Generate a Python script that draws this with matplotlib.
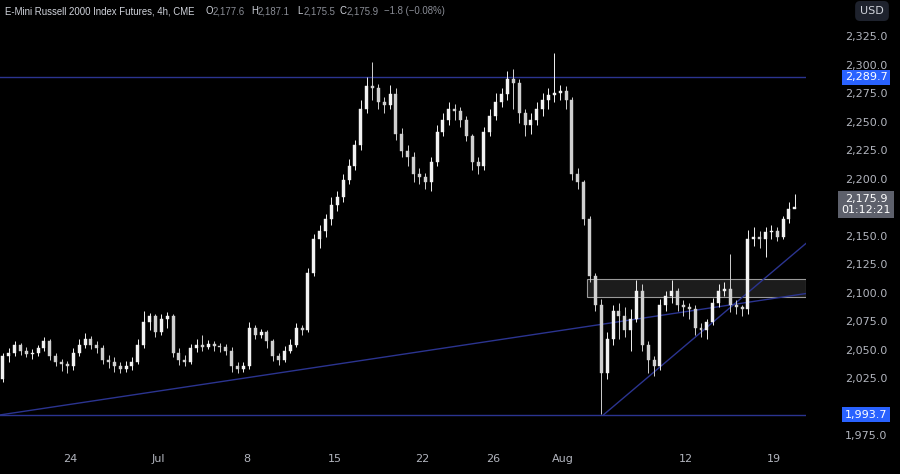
import matplotlib
matplotlib.use("Agg")
import matplotlib.pyplot as plt
import matplotlib.transforms as mtransforms
from matplotlib.patches import Rectangle

first_open = 2025
closes = [2045,2048,2055,2050,2047,2048,2052,2058,2045,2040,2038,2036,
          2048,2055,2060,2055,2052,2042,2040,2036,2034,2036,2040,2055,
          2075,2080,2066,2078,2080,2048,2042,2040,2052,2055,2053,2056,
          2054,2053,2050,2036,2034,2036,2070,2064,2066,2058,2045,2042,
          2050,2055,2070,2068,2118,2148,2155,2165,2178,2185,2200,2212,
          2230,2262,2282,2280,2268,2265,2275,2240,2225,2220,2205,2202,
          2198,2215,2242,2252,2262,2260,2252,2238,2215,2212,2242,2256,
          2268,2275,2288,2285,2258,2248,2252,2262,2270,2274,2276,2278,
          2270,2205,2198,2165,2115,2090,2030,2060,2085,2080,2068,2078,
          2102,2055,2042,2036,2090,2098,2102,2090,2088,2086,2070,2068,
          2075,2092,2102,2104,2090,2088,2086,2148,2150,2148,2154,2155,
          2150,2165,2174,2175.9]
highs = [2048,2052,2058,2057,2053,2051,2055,2062,2060,2048,2043,2041,
         2052,2060,2065,2063,2058,2055,2046,2044,2040,2041,2044,2060,
         2085,2083,2082,2082,2084,2082,2052,2046,2056,2060,2064,2059,
         2058,2057,2056,2053,2040,2040,2075,2072,2069,2068,2060,2048,
         2054,2060,2074,2072,2122,2152,2160,2170,2185,2190,2205,2218,
         2235,2270,2290,2303,2284,2272,2283,2280,2245,2230,2224,2210,
         2206,2220,2248,2258,2268,2266,2264,2256,2240,2220,2246,2262,
         2276,2280,2295,2297,2288,2262,2258,2268,2276,2280,2311,2283,
         2282,2272,2210,2200,2168,2118,2095,2066,2090,2092,2088,2086,
         2112,2108,2058,2045,2095,2102,2112,2105,2094,2092,2090,2074,
         2078,2096,2108,2110,2135,2094,2090,2156,2158,2155,2158,2160,
         2158,2168,2180,2187.1]
lows = [2022,2040,2045,2046,2044,2043,2045,2050,2042,2036,2032,2030,
        2033,2045,2052,2051,2048,2038,2035,2031,2030,2031,2033,2038,
        2052,2068,2062,2064,2070,2044,2037,2036,2038,2049,2050,2051,
        2050,2049,2046,2031,2030,2031,2034,2060,2061,2052,2041,2037,
        2040,2048,2053,2064,2066,2115,2140,2150,2160,2172,2180,2196,
        2208,2226,2258,2270,2262,2258,2262,2235,2220,2212,2198,2196,
        2192,2190,2212,2238,2248,2252,2246,2234,2208,2205,2208,2238,
        2252,2264,2270,2262,2250,2238,2240,2248,2256,2262,2268,2270,
        2262,2200,2192,2160,2110,2085,1994,2025,2055,2060,2062,2050,
        2075,2050,2030,2028,2033,2085,2092,2085,2080,2078,2064,2062,
        2060,2072,2088,2098,2084,2082,2080,2082,2142,2140,2132,2148,
        2146,2148,2162,2175.5]
bars_per_day = 3
date_ticks = [4, 9, 14, 19, 24, 28, 32, 39, 44]
date_labels = ["24", "Jul", "8", "15", "22", "26", "Aug", "12", "19"]
price_ticks = [1975, 2000, 2025, 2050, 2075, 2100, 2125, 2150, 2175, 2200, 2225, 2250, 2275, 2300, 2325]
resistance = 2289.7
support = 1993.7
last_price = 2175.9
trend1 = ([0, 45.8], [1993.5, 2100])
trend2 = ([34.3, 45.8], [1993.7, 2144])
zone = (33.35, 2097, 2112.7)

W, H = 900, 474
fig = plt.figure(figsize=(9, 4.74), dpi=100, facecolor="black")
ax = fig.add_axes([0, 26 / H, 806 / W, 448 / H], facecolor="black")
ax.set_xlim(0, 45.8)
ax.set_ylim(1964.5, 2357.5)
for s in ax.spines.values():
    s.set_visible(False)

lc = "#2b3490"
ax.axhline(resistance, color=lc, lw=1)
ax.axhline(support, color=lc, lw=1)
ax.plot(*trend1, color=lc, lw=1)
ax.plot(*trend2, color=lc, lw=1)
ax.add_patch(Rectangle((zone[0], zone[1]), 45.8 - zone[0], zone[2] - zone[1],
                       facecolor="#1c1c1c", edgecolor="#9a9a9a", lw=0.8, zorder=1))

opens = [first_open] + closes[:-1]
for i, (o, h, l, c) in enumerate(zip(opens, highs, lows, closes)):
    x = (i + 0.5) / bars_per_day
    col = "#f2f2f2" if c >= o else "#cfcfcf"
    ax.vlines(x, l, h, color=col, lw=0.7, zorder=3)
    ax.add_patch(Rectangle((x - 0.085, min(o, c)), 0.17, max(abs(c - o), 0.4),
                           facecolor=col, edgecolor=col, lw=0.3, zorder=4))

ax.set_yticks([])
ax.set_xticks(date_ticks)
ax.set_xticklabels(date_labels, color="#b2b5be", fontsize=8)
ax.tick_params(axis="x", length=0, pad=4)

tr = mtransforms.blended_transform_factory(fig.transFigure, ax.transData)
for p in price_ticks:
    if abs(p - resistance) < 8 or abs(p - support) < 8 or abs(p - last_price) < 8:
        continue
    ax.text(866 / W, p, f"{p:,.1f}", transform=tr, color="#b2b5be", fontsize=8,
            ha="center", va="center")
for val in (resistance, support):
    ax.text(866 / W, val, f"{val:,.1f}", transform=tr, color="white", fontsize=8,
            ha="center", va="center",
            bbox=dict(boxstyle="square,pad=0.25", fc="#2962ff", ec="none"))
ax.text(866 / W, last_price + 2, f"{last_price:,.1f}\n01:12:21", transform=tr,
        color="white", fontsize=8, ha="center", va="center", linespacing=1.1,
        bbox=dict(boxstyle="square,pad=0.3", fc="#5d606b", ec="none"))
fig.text(872 / W, 1 - 11 / H, "USD", color="#d1d4dc", fontsize=8, ha="center", va="center",
         bbox=dict(boxstyle="round,pad=0.45", fc="#1e222d", ec="none"))

y0 = 1 - 11 / H
tf = dict(fontsize=6.9, va="center", family="Liberation Sans")
fig.text(5 / W, y0, "E-Mini Russell 2000 Index Futures, 4h, CME", color="#d1d4dc", **tf)
parts = [("O", "2,177.6", 206), ("H", "2,187.1", 251), ("L", "2,175.5", 297), ("C", "2,175.9", 340)]
for lab, v, x in parts:
    fig.text(x / W, y0, lab, color="#d1d4dc", **tf)
    fig.text((x + 7) / W, y0, v, color="#8a8d96", **tf)
fig.text(384 / W, y0, "\u22121.8 (\u22120.08%)", color="#8a8d96", **tf)

fig.savefig("out.png", dpi=100, facecolor="black")
